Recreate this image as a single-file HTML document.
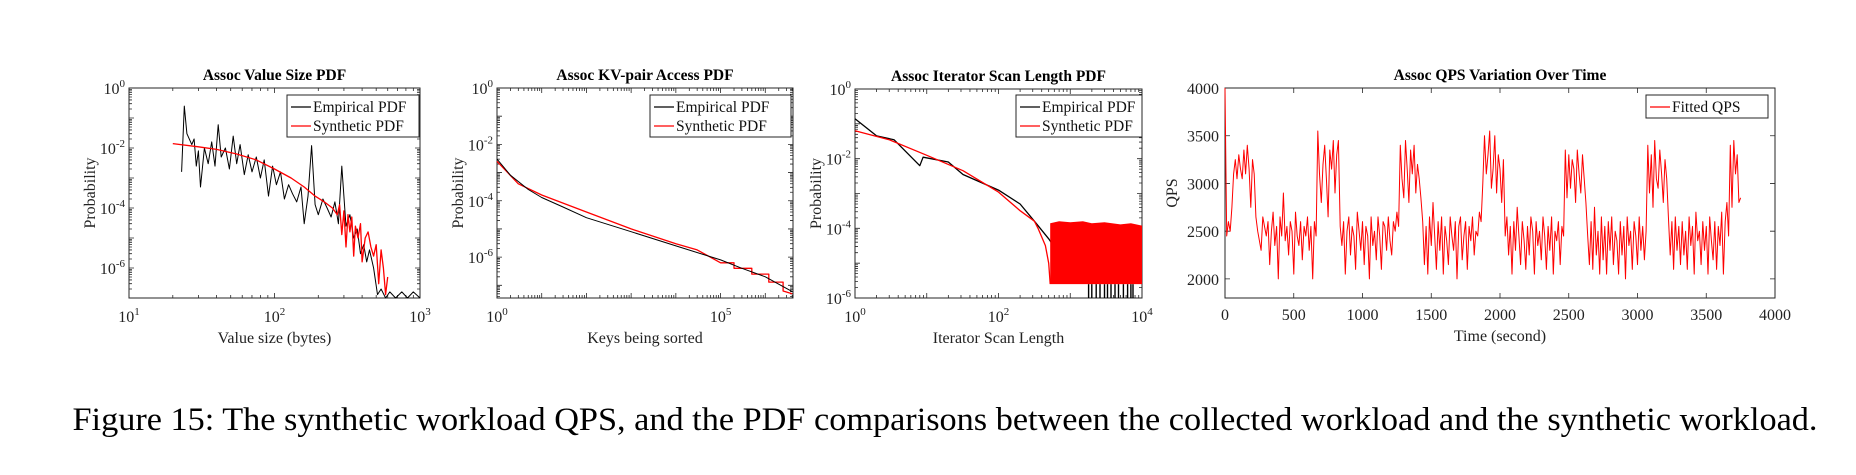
<!DOCTYPE html>
<html><head><meta charset="utf-8">
<style>
html,body{margin:0;padding:0;background:#fff;}
body{width:1856px;height:470px;overflow:hidden;font-family:"Liberation Serif",serif;}
svg text{font-family:"Liberation Serif",serif;}
</style></head>
<body>
<svg id="fig" width="1856" height="470" xmlns="http://www.w3.org/2000/svg">
<text x="945" y="430" text-anchor="middle" font-size="33" fill="#000" textLength="1745" lengthAdjust="spacingAndGlyphs">Figure 15: The synthetic workload QPS, and the PDF comparisons between the collected workload and the synthetic workload.</text>
</svg>
<script>
// ---------- Chart 1 data: Value size PDF ----------
const c1EmpX = [23,24,25,27,28,29,30,31,33,35,37,39,41,43,46,49,52,55,58,62,66,70,75,80,85,91,97,103,110,117,125,133,142,152,160,170,180,190,200,215,230,245,260,275,290,310,330,350,370,390,410,430,450,480,510,540,580,620,680,750,820,900,1000];
const c1EmpY = [1.6e-3,0.25,3e-2,1.3e-2,2e-2,2.5e-3,8e-3,5e-4,1e-2,3e-3,1.6e-2,2.5e-3,6e-2,5e-3,1e-2,2e-3,2.5e-2,3e-3,1.3e-2,1.3e-3,6e-3,1.6e-3,5e-3,1e-3,4e-3,2.5e-4,2.5e-3,6e-4,1.6e-3,2e-4,6e-4,3e-4,1.6e-4,5e-4,3e-5,2.5e-4,1.2e-2,1.3e-4,6e-5,2e-4,1e-4,5e-5,1.6e-4,3e-5,2.5e-3,2.5e-5,6e-5,1e-5,2e-5,3e-6,6e-6,1.6e-6,4e-6,1e-6,1.3e-7,2e-7,1e-7,1.6e-7,1e-7,1.6e-7,1e-7,1.6e-7,1e-7];
const c1SynX = [20,30,40,55,75,100,130,160,190,220,250,270,280,290,300,310,320,330,340,350,360,375,390,400,420,440,460,480,500,520,540,560,580,600];
const c1SynY = [1.4e-2,1.1e-2,9e-3,6.3e-3,4e-3,2e-3,1e-3,5e-4,2.5e-4,1.6e-4,1e-4,6e-5,1.3e-4,1.3e-5,8e-5,5e-6,6e-5,1.6e-5,5e-5,2.5e-6,2.5e-5,1e-5,3e-5,1.6e-6,1e-5,1.6e-5,5e-6,2.5e-6,6e-6,3e-7,4e-6,1e-6,1.3e-7,5e-7];
const c1XExp=[1,2,3];
const c1YExp = [0,-2,-4,-6];

// ---------- Chart 2 data: KV-pair access ----------
const c2EmpX = [1,2,5,10,30,100,1000,10000,100000,300000,1000000,4000000];
const c2EmpY = [3e-3,8e-4,2.5e-4,1.3e-4,6e-5,2.5e-5,8e-6,2.5e-6,8e-7,4e-7,2e-7,6e-8];
const c2SynX = [1,3,10,100,1000,10000,30000,100000,200000,200000,500000,500000,1200000,1200000,2500000,2500000,4000000];
const c2SynY = [2.5e-3,4e-4,1.6e-4,4e-5,1e-5,3e-6,1.8e-6,6.3e-7,6.3e-7,4e-7,4e-7,2.5e-7,2.5e-7,1.3e-7,1.3e-7,6.3e-8,5e-8];
const c2YExp = [0,-2,-4,-6];
const c2XExp = [0,5];

// ---------- Chart 3 data: Iterator scan length ----------
const c3EmpX = [1,2,3.5,8,8.9,20,32,100,200,316,500,630];
const c3EmpY = [0.14,4.5e-2,3.5e-2,6.3e-3,1.1e-2,8e-3,3.5e-3,1.25e-3,5e-4,1.6e-4,5e-5,2.5e-5];
const c3EmpTailX = [1800,2000,2300,2600,3000,3300,3700,4200,4700,5500,6300,7000,7500];
const c3SynX = [1,3,10,32,100,200,316,355,450,500,525];
const c3SynY = [6.3e-2,3.5e-2,1.25e-2,4.5e-3,1.1e-3,3.2e-4,1.6e-4,1e-4,3.2e-5,1e-5,2.5e-6];
const c3BandX = [525,700,1000,1500,2000,3000,5000,7000,10000];
const c3BandHi = [1.4e-4,1.6e-4,1.5e-4,1.6e-4,1.4e-4,1.5e-4,1.3e-4,1.4e-4,1.2e-4];
const c3BandLo = [2.5e-6,2.5e-6,2.5e-6,2.5e-6,2.5e-6,2.5e-6,2.5e-6,2.5e-6,2.5e-6];
const c3YExp = [0,-2,-4,-6];
const c3XExp = [0,2,4];

// ---------- Chart 4 data: QPS over time ----------
const qpsStep = 12.5;
const qpsValues = [4000,2450,2600,2500,2750,
3100,3250,3050,3300,3150,3050,3350,3100,3400,3150,2750,3250,3100,2650,
2500,2400,2300,2650,2550,2450,2600,2150,2500,2700,2350,2550,2000,2650,2450,2900,2400,2550,2250,2600,2500,2050,2700,2450,2350,2600,2200,2550,2450,2650,2300,2550,2000,2600,2450,
3550,3100,2800,3200,3400,3050,2650,3350,3150,3450,2900,3300,3450,
2550,2350,2600,2050,2500,2650,2250,2550,2450,2100,2700,2500,2300,2600,2150,2550,2450,2000,2650,2350,2500,2200,2650,2450,2100,2600,2550,2300,2650,2400,2250,2600,2500,2700,2550,
3400,3050,2850,3450,3150,2800,3350,3100,3400,2900,3200,3050,2850,
2600,2150,2550,2050,2650,2350,2800,2450,2100,2600,2300,2650,2050,2550,2400,2150,2650,2450,2300,2600,2000,2550,2650,2200,2450,2600,2100,2550,2400,2650,2250,2500,2450,2700,2600,
3000,3500,3100,3300,3550,2950,3150,3500,2900,3300,3150,2800,3250,
2450,2650,2250,2550,2050,2600,2300,2750,2450,2150,2600,2400,2100,2550,2250,2650,2500,2050,2600,2350,2500,2200,2650,2450,2100,2550,2300,2650,2050,2500,2400,2600,2150,2550,2450,
3350,2850,3300,2950,3250,3150,2800,3350,3100,2900,3300,3050,2800,
2450,2150,2600,2100,2750,2250,2500,2050,2650,2200,2550,2050,2600,2300,2650,2150,2500,2400,2050,2600,2250,2550,2000,2650,2350,2500,2100,2600,2450,2150,2650,2300,2550,2200,2500,
3400,2900,3300,2750,3450,3050,2950,3350,3100,2800,3250,3050,2650,
2250,2600,2100,2650,2300,2550,2150,2600,2250,2500,2100,2650,2350,2550,2050,2700,2400,2500,2150,2600,2300,2550,2050,2650,2400,2200,2600,2100,2550,2350,2700,2050,2600,2800,2450,
3400,2750,3450,3100,3300,2800,2850];
const qpsXTicks = [0,500,1000,1500,2000,2500,3000,3500,4000];
const qpsYTicks = [2000,2500,3000,3500,4000];

const NS="http://www.w3.org/2000/svg";
const svg=document.getElementById('fig');
function mk(tag,attrs,parent){const e=document.createElementNS(NS,tag);for(const k in attrs)e.setAttribute(k,attrs[k]);(parent||svg).appendChild(e);return e;}
function pathFrom(xs,ys,fx,fy){return xs.map((x,i)=>(i?'L':'M')+fx(x).toFixed(1)+' '+fy(ys[i]).toFixed(1)).join(' ');}
function logScale(lo,hi,p0,p1){return v=>p0+(Math.log10(v)-lo)/(hi-lo)*(p1-p0);}
function linScale(lo,hi,p0,p1){return v=>p0+(v-lo)/(hi-lo)*(p1-p0);}

function supLabel(g,x,y,exp,anchor){
  const t=mk('text',{x:x,y:y,'font-size':16,'text-anchor':anchor,fill:'#222'},g);
  
  
  t.appendChild(document.createTextNode('10'));
  const s=mk('tspan',{dy:-7,'font-size':11},t);s.textContent=String(exp);
  return t;
}

function logAxes(g,box,xlo,xhi,ylo,yhi,xExps,yExps){
  const {L,R,T,B}=box;
  const fx=logScale(xlo,xhi,L,R), fy=logScale(yhi,ylo,T,B);
  mk('rect',{x:L,y:T,width:R-L,height:B-T,fill:'#fff',stroke:'#262626','stroke-width':1},g);
  let d='';
  for(let e=Math.floor(xlo);e<=Math.ceil(xhi);e++){for(let m=1;m<10;m++){const lv=e+Math.log10(m);if(lv<xlo||lv>xhi)continue;const x=fx(Math.pow(10,lv));const len=m===1?5:3;d+=`M${x} ${B}v${-len}M${x} ${T}v${len}`;}}
  for(let e=Math.floor(ylo);e<=Math.ceil(yhi);e++){for(let m=1;m<10;m++){const lv=e+Math.log10(m);if(lv<ylo||lv>yhi)continue;const y=fy(Math.pow(10,lv));const len=m===1?5:3;d+=`M${L} ${y}h${len}M${R} ${y}h${-len}`;}}
  mk('path',{d:d,stroke:'#262626','stroke-width':0.8,fill:'none'},g);
  xExps.forEach(e=>supLabel(g,fx(Math.pow(10,e)),B+24,e,'middle'));
  yExps.forEach(e=>supLabel(g,L-4,fy(Math.pow(10,e))+6,e,'end'));
  return {fx,fy};
}
function titleAndLabels(g,box,title,xl,yl){
  const cx=(box.L+box.R)/2;
  const t=mk('text',{x:cx,y:box.T-8,'font-size':15.5,'font-weight':'bold','text-anchor':'middle'},g);t.textContent=title;
  
  const x=mk('text',{x:cx,y:box.B+45,'font-size':16,'text-anchor':'middle',fill:'#222'},g);x.textContent=xl;
  
  const y=mk('text',{x:0,y:0,'font-size':16,'text-anchor':'middle',fill:'#222',transform:`translate(${box.L-34},${(box.T+box.B)/2}) rotate(-90)`},g);y.textContent=yl;
  
}
function legend(g,x,y,w,entries){
  const h=entries.length*19+4;
  const lg=mk('g',{},g);
  
  mk('rect',{x:x,y:y,width:w,height:h,fill:'#fff',stroke:'#262626','stroke-width':1},lg);
  entries.forEach((en,i)=>{
    const yy=y+12+i*19;
    const eg=mk('g',{},lg);
    
    mk('line',{x1:x+4,x2:x+24,y1:yy,y2:yy,stroke:en[1],'stroke-width':1.3},eg);
    const t=mk('text',{x:x+26,y:yy+5,'font-size':15.5,fill:'#111'},eg);t.textContent=en[0];
  });
}
function series(g,xs,ys,fx,fy,color,name,w){
  const p=mk('path',{d:pathFrom(xs,ys,fx,fy),stroke:color,'stroke-width':w||1,fill:'none','stroke-linejoin':'round'},g);
  
  return p;
}

// Chart 1
{
  const g=mk('g',{});
  const box={L:129,R:420,T:88,B:298};
  const {fx,fy}=logAxes(g,box,1,3,-7,0,c1XExp,c1YExp);
  titleAndLabels(g,box,'Assoc Value Size PDF','Value size (bytes)','Probability');
  series(g,c1EmpX,c1EmpY,fx,fy,'#000','empirical-pdf-line');
  series(g,c1SynX,c1SynY,fx,fy,'#ff0000','synthetic-pdf-line',1.3);
  legend(g,287,95,132,[['Empirical PDF','#000'],['Synthetic PDF','#ff0000']]);
}
// Chart 2
{
  const g=mk('g',{});
  const box={L:497,R:793,T:88,B:298};
  const {fx,fy}=logAxes(g,box,0,6.62,-7.45,0,c2XExp,c2YExp);
  titleAndLabels(g,box,'Assoc KV-pair Access PDF','Keys being sorted','Probability');
  series(g,c2SynX,c2SynY,fx,fy,'#ff0000','synthetic-pdf-line',1.3);
  series(g,c2EmpX,c2EmpY,fx,fy,'#000','empirical-pdf-line');
  legend(g,650,95,141,[['Empirical PDF','#000'],['Synthetic PDF','#ff0000']]);
}
// Chart 3
{
  const g=mk('g',{});
  const box={L:855,R:1142,T:89,B:298};
  const {fx,fy}=logAxes(g,box,0,4,-6,0,c3XExp,c3YExp);
  titleAndLabels(g,box,'Assoc Iterator Scan Length PDF','Iterator Scan Length','Probability');
  let d='';
  c3EmpTailX.forEach(x=>{d+=`M${fx(x).toFixed(1)} ${box.B}V${fy(2.5e-6).toFixed(1)}`;});
  const bt=mk('path',{d:d,stroke:'#000','stroke-width':1.4},g);
  
  series(g,c3EmpX,c3EmpY,fx,fy,'#000','empirical-pdf-line',1.3);
  const pts=c3BandX.map((x,i)=>fx(x).toFixed(1)+','+fy(c3BandHi[i]).toFixed(1)).concat(c3BandX.slice().reverse().map((x,i)=>fx(x).toFixed(1)+','+fy(c3BandLo[c3BandLo.length-1-i]).toFixed(1)));
  const band=mk('polygon',{points:pts.join(' '),fill:'#ff0000'},g);
  
  series(g,c3SynX,c3SynY,fx,fy,'#ff0000','synthetic-pdf-line',1.3);
  legend(g,1016,95,126,[['Empirical PDF','#000'],['Synthetic PDF','#ff0000']]);
}
// Chart 4
{
  const g=mk('g',{});
  const box={L:1225,R:1775,T:88,B:298};
  const fx=linScale(0,4000,box.L,box.R), fy=linScale(4000,1800,box.T,box.B);
  mk('rect',{x:box.L,y:box.T,width:box.R-box.L,height:box.B-box.T,fill:'#fff',stroke:'#262626','stroke-width':1},g);
  let d='';
  qpsXTicks.forEach(v=>{const x=fx(v);d+=`M${x} ${box.B}v-5M${x} ${box.T}v5`;
    const t=mk('text',{x:x,y:box.B+22,'font-size':16,'text-anchor':'middle',fill:'#222'},g);t.textContent=v;
    });
  qpsYTicks.forEach(v=>{const y=fy(v);d+=`M${box.L} ${y}h5M${box.R} ${y}h-5`;
    const t=mk('text',{x:box.L-6,y:y+6,'font-size':16,'text-anchor':'end',fill:'#222'},g);t.textContent=v;
    });
  mk('path',{d:d,stroke:'#262626','stroke-width':0.8},g);
  const cx=(box.L+box.R)/2;
  const tt=mk('text',{x:cx,y:box.T-8,'font-size':15.5,'font-weight':'bold','text-anchor':'middle'},g);tt.textContent='Assoc QPS Variation Over Time';
  
  const xt=mk('text',{x:cx,y:box.B+43,'font-size':16,'text-anchor':'middle',fill:'#222'},g);xt.textContent='Time (second)';
  
  const yt=mk('text',{x:0,y:0,'font-size':16,'text-anchor':'middle',fill:'#222',transform:`translate(${box.L-48},${(box.T+box.B)/2}) rotate(-90)`},g);yt.textContent='QPS';
  
  const xs=qpsValues.map((v,i)=>i*qpsStep);
  series(g,xs,qpsValues,fx,fy,'#ff0000','fitted-qps-line',1);
  legend(g,1646,95,122,[['Fitted QPS','#ff0000']]);
}
</script>
</body></html>
